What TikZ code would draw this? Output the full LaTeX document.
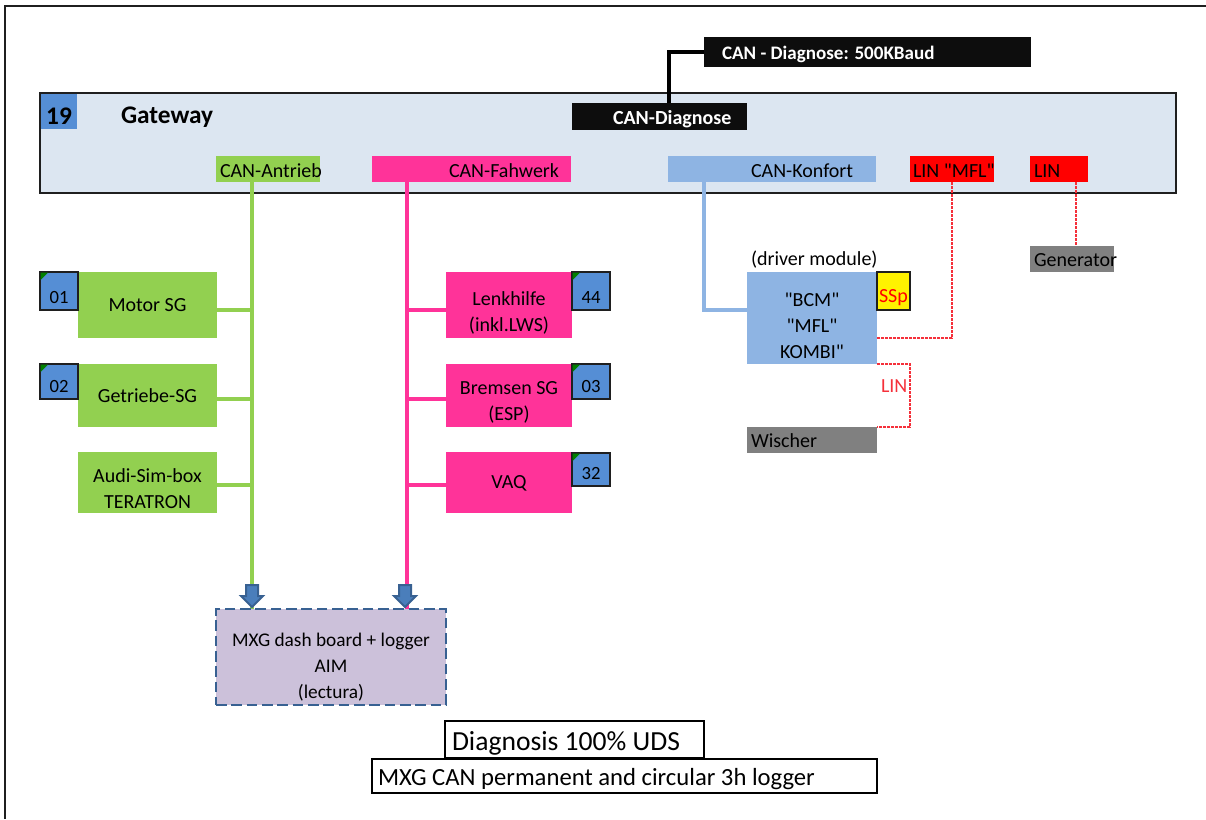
\documentclass[tikz,border=0pt]{standalone}
\usepackage{fontspec}
\setmainfont{Carlito}[Ligatures=TeXOff]
\definecolor{gwfill}{HTML}{DCE6F1}
\definecolor{blueid}{HTML}{558ED5}
\definecolor{canA}{HTML}{92D050}
\definecolor{canF}{HTML}{FF3399}
\definecolor{canK}{HTML}{8EB4E3}
\definecolor{blk}{HTML}{0D0D0D}
\definecolor{gry}{HTML}{808080}
\definecolor{mxgfill}{HTML}{CCC1DA}
\definecolor{arrowfill}{HTML}{4A7EBB}
\definecolor{arrowline}{HTML}{386192}
\definecolor{framec}{HTML}{1F1F1F}
\definecolor{linred}{HTML}{F5303A}
\tikzset{
  x=0.75pt,y=-0.75pt,
  boxbase/.style={inner sep=0pt,outer sep=0pt,align=center,font=\fontsize{15}{19.5}\selectfont},
  flat/.style={boxbase,fill=#1},
  ringbox/.style={boxbase,fill=white,draw=black,line width=2pt},
  idbox/.style={boxbase,fill=blueid,draw=framec,line width=1pt},
  busA/.style={draw=canA,line width=3pt},
  busF/.style={draw=canF,line width=3pt},
  busK/.style={draw=canK,line width=3pt},
  busD/.style={draw=black,line width=3pt},
  linline/.style={draw=linred,line width=0.8pt,dash pattern=on 2.2pt off 0.8pt},
  txt/.style={inner sep=0pt,outer sep=0pt,anchor=west,font=\fontsize{15}{19.5}\selectfont},
  txtc/.style={inner sep=0pt,outer sep=0pt,align=center,font=\fontsize{15}{19.5}\selectfont},
  blockarrow/.style={fill=arrowfill,draw=arrowline,line width=1.5pt},
}
\newcommand{\bx}[7][]{%
  \pgfmathsetmacro{\cxv}{(#3+#5)/2}%
  \pgfmathsetmacro{\cyv}{(#4+#6)/2}%
  \pgfmathsetmacro{\wv}{(#5-#3)*0.75}%
  \pgfmathsetmacro{\hv}{(#6-#4)*0.75}%
  \node[#1,minimum width=\wv pt,minimum height=\hv pt] (#2) at (\cxv,\cyv) {#7};}
\newcommand{\idb}[6]{%
  \bx[idbox]{#1}{#2}{#3}{#4}{#5}{}%
  \path[fill=green!50!black] (#2+0.5,#3+0.5) -- (#2+8,#3+0.5) -- (#2+0.5,#3+8) -- cycle;%
  \node[txtc,font=\fontsize{14}{17}\selectfont] (#1t) at ({(#2+#4)/2},{#5-13}) {#6};}
\newcommand{\barrow}[1]{%
  \path[blockarrow] (#1-6,585) -- (#1+6,585) -- (#1+6,596) -- (#1+11,596) -- (#1,607) -- (#1-11,596) -- (#1-6,596) -- cycle;}
\begin{document}
\begin{tikzpicture}
\useasboundingbox (0,0) rectangle (1206,819);
\draw[framec,line width=1.2pt] (1206,6) -- (5,6) -- (5,819);
% gateway
\bx[boxbase,fill=gwfill,draw=framec,line width=1pt]{gw}{40}{93}{1176}{193}{}
\bx[flat=blueid]{gwid}{41}{94}{77}{129}{}
\node[txtc,font=\fontsize{19}{22}\selectfont\bfseries] (gwidt) at (59,116) {19};
\node[txt,font=\fontsize{19}{22}\selectfont\bfseries] (gwt) at (121,117) {Gateway};
% bus coordinates
\coordinate (aTop) at (252,182); \coordinate (aBot) at (252,609);
\coordinate (fTop) at (407,182); \coordinate (fBot) at (407,609);
\coordinate (kTop) at (704,182); \coordinate (kPort) at (747,310);
\coordinate (dTop) at (669,103); \coordinate (dPort) at (704,52);
\coordinate (mflTop) at (952,182); \coordinate (mflPort) at (877,338);
\coordinate (genTop) at (1076,182); \coordinate (genPort) at (1076,246);
\coordinate (wiA) at (877,364); \coordinate (wiB) at (877,427);
% connectors
\draw[busA] (aTop) -- (aBot);
\draw[busF] (fTop) -- (fBot);
\draw[busK] (kTop) |- (kPort);
\draw[busD] (dTop) |- (dPort);
\draw[linline] (mflTop) |- (mflPort);
\draw[linline] (genTop) -- (genPort);
\draw[linline] (wiA) -- (910,364) -- (910,427) -- (wiB);
\foreach \yy/\xx in {310/217,399/217,485/217} \draw[busA] (\xx,\yy) -- (252,\yy);
\foreach \yy/\xx in {310/446,399/446,485/446} \draw[busF] (\xx,\yy) -- (407,\yy);
% bus boxes
\bx[flat=canA]{antrieb}{216}{156}{320}{182}{}
\node[txt] (antriebt) at (220,171) {CAN-Antrieb};
\bx[flat=canF]{fahwerk}{372}{156}{571}{182}{}
\node[txt] (fahwerkt) at (449,171) {CAN-Fahwerk};
\bx[flat=blk]{diag}{572}{103}{747}{130}{}
\node[txt,text=white,font=\fontsize{15}{18}\selectfont\bfseries] (diagt) at (613,119) {CAN-Diagnose};
\bx[flat=blk]{diagb}{704}{37}{1031}{67}{}
\node[txt,text=white,font=\fontsize{14.3}{18}\selectfont\bfseries] (diagbt) at (722,54) {CAN - Diagnose: 500KBaud};
\bx[flat=canK]{konfort}{668}{156}{876}{182}{}
\node[txt] (konfortt) at (751,171) {CAN-Konfort};
\bx[flat=red]{linmfl}{910}{156}{994}{182}{}
\node[txt] (linmflt) at (913,171) {LIN "MFL"};
\bx[flat=red]{lin}{1030}{156}{1088}{182}{}
\node[txt] (lint) at (1034,171) {LIN};
\bx[flat=gry]{gen}{1030}{246}{1114}{272}{}
\node[txt] (gent) at (1034,260) {Generator};
% driver module
\node[txt] (drv) at (751,260) {(driver module)};
\bx[flat=canK]{bcm}{747}{272}{877}{364}{}
\node[txtc] (bcmt) at (812,326) {"BCM"\\"MFL"\\KOMBI"};
\bx[boxbase,fill=yellow,draw=framec,line width=1pt]{ssp}{877}{272}{910}{310}{}
\node[txtc,text=red] (sspt) at (893.5,298) {SSp};
\node[txt,text=linred] (lintxt) at (881,386) {LIN};
\bx[flat=gry]{wisch}{747}{427}{877}{453}{}
\node[txt] (wischt) at (751,441) {Wischer};
% left column
\bx[flat=canA]{motor}{78}{272}{217}{338}{Motor SG}
\idb{id01}{40}{272}{78}{310}{01}
\bx[flat=canA]{getr}{78}{364}{217}{427}{Getriebe-SG}
\idb{id02}{40}{364}{78}{399}{02}
\bx[flat=canA]{audi}{78}{452}{217}{513}{}
\node[txtc] (audit) at (147.5,489) {Audi-Sim-box\\TERATRON};
% right column
\bx[flat=canF]{lenk}{446}{272}{572}{338}{}
\node[txtc] (lenkt) at (509,313) {Lenkhilfe\\(inkl.LWS)};
\idb{id44}{572}{272}{610}{310}{44}
\bx[flat=canF]{brems}{446}{364}{572}{427}{}
\node[txtc] (bremst) at (509,402) {Bremsen SG\\(ESP)};
\idb{id03}{572}{364}{610}{399}{03}
\bx[flat=canF]{vaq}{446}{452}{572}{513}{}
\node[txtc] (vaqt) at (509,483) {VAQ};
\idb{id32}{572}{453}{610}{486}{32}
% logger
\bx[boxbase,fill=mxgfill,draw=arrowline,line width=2.1pt,dash pattern=on 8pt off 3.5pt]{mxg}{216}{609}{446}{705}{}
\node[txtc,font=\fontsize{14.5}{19.5}\selectfont] (mxgt) at (331,667) {MXG dash board + logger\\AIM\\(lectura)};
\barrow{252}
\barrow{405}
% notes
\bx[ringbox]{diagnote}{445}{721}{704}{758}{}
\node[txt,font=\fontsize{20.7}{24}\selectfont] (diagnotet) at (452,743) {Diagnosis 100\% UDS};
\bx[ringbox]{mxgnote}{372}{759}{877}{793}{}
\node[txt,font=\fontsize{18.5}{22}\selectfont] (mxgnotet) at (378,779) {MXG CAN permanent and circular 3h logger};
\end{tikzpicture}
\end{document}
